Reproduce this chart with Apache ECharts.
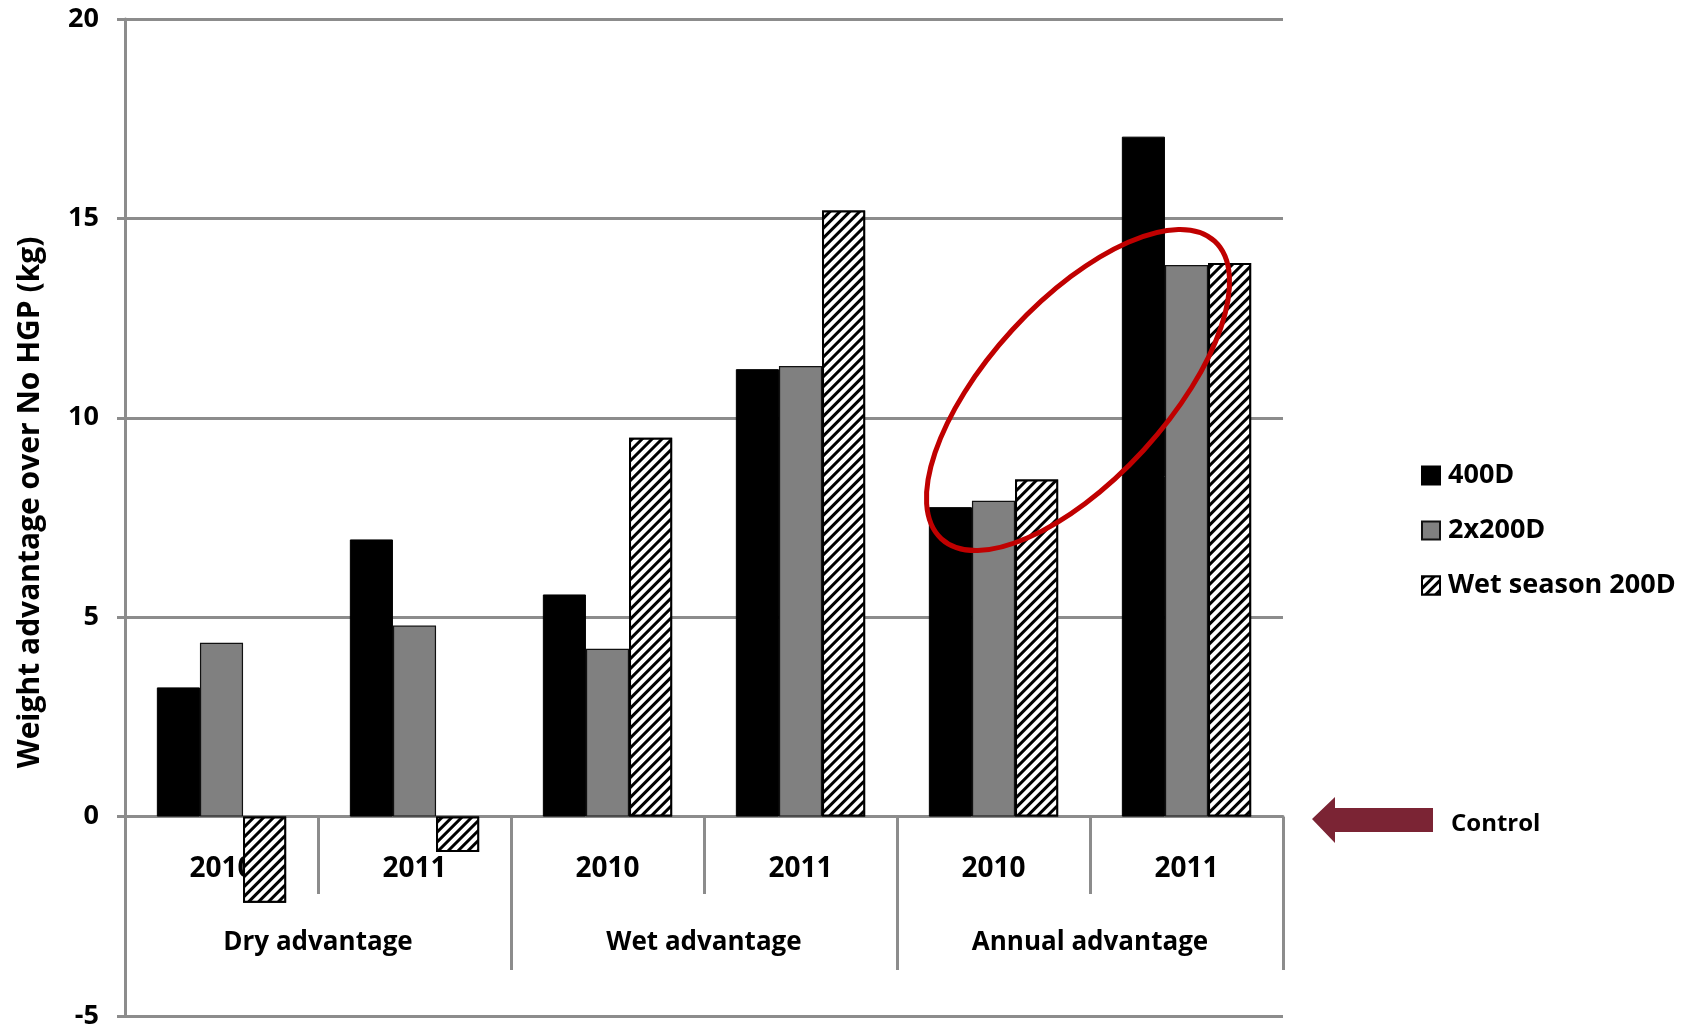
<!DOCTYPE html>
<html>
<head>
<meta charset="utf-8">
<script src="https://cdn.jsdelivr.net/npm/echarts@6/dist/echarts.min.js"></script>
<style>
html,body{margin:0;padding:0;background:#fff;}
#chart{width:1693px;height:1026px;}
</style>
</head>
<body>
<div id="chart"></div>
<script>
// ---- data ----
const years = ['2010', '2011', '2010', '2011', '2010', '2011'];
const groups = ['Dry advantage', 'Wet advantage', 'Annual advantage'];
const seriesNames = ['400D', '2x200D', 'Wet season 200D'];
const s400D = [3.24, 6.95, 5.57, 11.22, 7.76, 17.05];
const s2x200D = [4.36, 4.79, 4.21, 11.30, 7.92, 13.83];
const sWet200D = [-2.16, -0.89, 9.50, 15.20, 8.45, 13.88];
const yTicks = { min: -5, max: 20, interval: 5 };
const yAxisTitle = 'Weight advantage over No HGP (kg)';
const controlLabel = 'Control';

// ---- styling ----
const FONT = 'Open Sans';
const GRID_COLOR = '#8c8c8c';
const L = 125, R = 410, T = 19, B = 10;
const ZERO_BOTTOM = 1026 - 817;

const chart = echarts.init(document.getElementById('chart'), null, { renderer: 'canvas' });

function hiddenY(idx) {
  return { type: 'value', gridIndex: idx, show: false, min: yTicks.min, max: yTicks.max, splitLine: { show: false } };
}
const labelBase = { fontFamily: FONT, fontWeight: 'bold', color: '#000' };

const option = {
  backgroundColor: '#ffffff',
  animation: false,
  textStyle: { fontFamily: FONT, fontWeight: 'bold', color: '#000' },
  grid: [
    { left: L, right: R, top: T, bottom: B, containLabel: false, outerBoundsMode: 'none' },
    { left: L, right: R, top: T, bottom: ZERO_BOTTOM, containLabel: false, outerBoundsMode: 'none' },
    { left: L, right: R, top: T, bottom: ZERO_BOTTOM, containLabel: false, outerBoundsMode: 'none' }
  ],
  legend: {
    orient: 'vertical',
    left: 1421,
    top: 462,
    padding: 0,
    itemWidth: 18,
    itemHeight: 18,
    itemGap: 28,
    icon: 'rect',
    data: seriesNames,
    textStyle: Object.assign({ fontSize: 27, padding: [0, 0, 0, 3] }, labelBase)
  },
  xAxis: [
    {
      type: 'category',
      gridIndex: 0,
      data: years,
      axisLine: { onZero: true, lineStyle: { color: GRID_COLOR, width: 3 } },
      axisTick: { show: false },
      axisLabel: { show: false },
      z: 0
    },
    {
      type: 'category',
      gridIndex: 1,
      position: 'bottom',
      data: years,
      axisLine: { show: false, onZero: false },
      axisTick: { show: true, length: 77, interval: 0, lineStyle: { color: GRID_COLOR, width: 3 } },
      axisLabel: Object.assign({ interval: 0, margin: 38, fontSize: 28 }, labelBase),
      z: 0
    },
    {
      type: 'category',
      gridIndex: 2,
      position: 'bottom',
      data: groups,
      axisLine: { show: false, onZero: false },
      axisTick: { show: true, length: 153, interval: 0, lineStyle: { color: GRID_COLOR, width: 3 } },
      axisLabel: Object.assign({ interval: 0, margin: 113, fontSize: 26 }, labelBase),
      z: 0
    }
  ],
  yAxis: [
    {
      type: 'value',
      gridIndex: 0,
      min: yTicks.min,
      max: yTicks.max,
      interval: yTicks.interval,
      name: yAxisTitle,
      nameLocation: 'middle',
      nameGap: 80,
      nameRotate: 90,
      nameTextStyle: Object.assign({ fontSize: 30, padding: [0, 0, 0, 30] }, labelBase),
      axisLine: { show: true, lineStyle: { color: GRID_COLOR, width: 3 } },
      axisTick: { show: true, length: 8, lineStyle: { color: GRID_COLOR, width: 3 } },
      axisLabel: Object.assign({ margin: 26, fontSize: 27 }, labelBase),
      splitLine: { show: true, lineStyle: { color: GRID_COLOR, width: 3 } }
    },
    hiddenY(1),
    hiddenY(2)
  ],
  series: [
    {
      name: seriesNames[0],
      type: 'bar',
      xAxisIndex: 0, yAxisIndex: 0,
      data: s400D,
      barGap: '0%',
      barCategoryGap: '33%',
      z: 5,
      itemStyle: { color: '#000000', borderColor: '#000', borderWidth: 1 }
    },
    {
      name: seriesNames[1],
      type: 'bar',
      xAxisIndex: 0, yAxisIndex: 0,
      data: s2x200D,
      barGap: '0%',
      barCategoryGap: '33%',
      z: 5,
      itemStyle: { color: '#808080', borderColor: '#111', borderWidth: 1.2 }
    },
    {
      name: seriesNames[2],
      type: 'bar',
      xAxisIndex: 0, yAxisIndex: 0,
      data: sWet200D,
      barGap: '0%',
      barCategoryGap: '33%',
      z: 5,
      itemStyle: {
        color: '#ffffff',
        borderColor: '#000',
        borderWidth: 2,
        decal: {
          symbol: 'rect',
          symbolSize: 1,
          color: '#000000',
          backgroundColor: '#ffffff',
          dashArrayX: [1, 0],
          dashArrayY: [2.6, 3.2],
          rotation: -Math.PI / 4
        }
      }
    }
  ],
  graphic: [
    {
      type: 'ellipse',
      x: 1078, y: 390,
      rotation: 47.45 * Math.PI / 180,
      shape: { cx: 0, cy: 0, rx: 202, ry: 89 },
      style: { fill: 'none', stroke: '#C00000', lineWidth: 5 },
      z: 100
    },
    {
      type: 'polygon',
      shape: { points: [[1312, 819], [1335, 797], [1335, 808], [1433, 808], [1433, 832], [1335, 832], [1335, 843]] },
      style: { fill: '#7B2434' },
      z: 100
    },
    {
      type: 'text',
      x: 1451, y: 824,
      style: { text: controlLabel, font: 'bold 24px "Open Sans"', fill: '#000', verticalAlign: 'middle', align: 'left' },
      z: 100
    }
  ]
};

chart.setOption(option);
</script>
</body>
</html>
